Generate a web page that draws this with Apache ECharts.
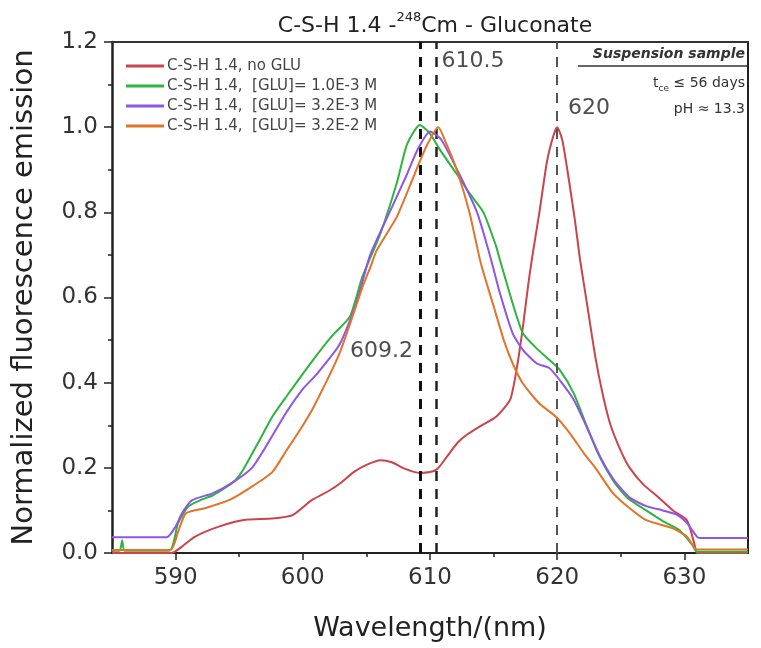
<!DOCTYPE html>
<html>
<head>
<meta charset="utf-8">
<title>C-S-H 1.4 - 248Cm - Gluconate</title>
<script src="https://cdn.jsdelivr.net/npm/echarts@6/dist/echarts.min.js"></script>
<style>
  html, body { margin: 0; padding: 0; background: #ffffff; }
  #chart { width: 761px; height: 648px; }
</style>
</head>
<body>
<div id="chart"></div>
<script>
// Emission spectra, wavelength in nm and normalized intensity
const seriesNames = [
  'C-S-H 1.4, no GLU',
  'C-S-H 1.4,  [GLU]= 1.0E-3 M',
  'C-S-H 1.4,  [GLU]= 3.2E-3 M',
  'C-S-H 1.4,  [GLU]= 3.2E-2 M'
];

const wlNoGlu = [585, 589.7, 590.5, 591.5, 593.4, 595.5, 597.6, 599.2, 600.7, 602, 603, 604, 605, 606.1, 607, 608, 609.2, 610, 610.6, 611.3, 612.2, 613, 613.9, 615.2, 616.3, 616.8, 617.3, 617.7, 618, 618.6, 619.2, 619.7, 620, 620.4, 620.9, 621.4, 621.8, 622.3, 623, 623.6, 624.2, 625, 625.7, 626.8, 627.8, 629.1, 630.2, 630.8, 631, 635];
const emNoGlu = [0, 0, 0.015, 0.038, 0.062, 0.078, 0.081, 0.089, 0.124, 0.145, 0.165, 0.19, 0.207, 0.218, 0.213, 0.198, 0.188, 0.19, 0.198, 0.225, 0.26, 0.28, 0.297, 0.32, 0.36, 0.43, 0.53, 0.625, 0.688, 0.80, 0.92, 0.98, 1.0, 0.97, 0.88, 0.78, 0.688, 0.594, 0.46, 0.37, 0.30, 0.24, 0.20, 0.16, 0.135, 0.10, 0.077, 0.02, 0, 0];

const wlGlu1 = [585, 585.6, 585.8, 586, 589.5, 590.2, 591, 592, 592.9, 594, 594.7, 595.3, 596.6, 597.6, 598.7, 600.8, 602.3, 603.7, 604.7, 606.1, 607.4, 608.2, 609.2, 610, 610.8, 612.1, 613.1, 614.2, 615.2, 615.5, 616.5, 617.3, 618.4, 619.4, 620.2, 621.3, 622.3, 623.2, 624.4, 625.5, 627, 628.3, 629.6, 630.6, 631, 635];
const emGlu1 = [0.005, 0.005, 0.03, 0.005, 0.005, 0.07, 0.109, 0.125, 0.135, 0.155, 0.171, 0.195, 0.265, 0.32, 0.367, 0.453, 0.51, 0.555, 0.65, 0.75, 0.87, 0.96, 1.005, 0.985, 0.946, 0.89, 0.845, 0.80, 0.72, 0.688, 0.586, 0.516, 0.48, 0.453, 0.43, 0.375, 0.30, 0.234, 0.17, 0.13, 0.10, 0.075, 0.054, 0.02, 0.003, 0.003];

const wlGlu2 = [585, 589.3, 590, 590.5, 591.3, 592.9, 594.4, 596, 597.3, 598.7, 600, 601.1, 602.9, 604.2, 605.3, 606.9, 608.2, 609, 610, 610.9, 612.3, 613.7, 614.7, 615.5, 616.5, 617.3, 618.4, 619.4, 620.2, 621.3, 622.3, 623.4, 624.5, 625.7, 627, 628.3, 629.4, 630.2, 631, 631.3, 635];
const emGlu2 = [0.037, 0.037, 0.062, 0.093, 0.124, 0.14, 0.164, 0.20, 0.26, 0.33, 0.385, 0.42, 0.49, 0.586, 0.70, 0.805, 0.89, 0.946, 0.99, 0.97, 0.89, 0.80, 0.70, 0.61, 0.516, 0.477, 0.445, 0.434, 0.406, 0.36, 0.297, 0.225, 0.17, 0.13, 0.11, 0.10, 0.09, 0.07, 0.038, 0.035, 0.035];

const wlGlu3 = [585, 589.6, 590.2, 590.8, 592.3, 594.2, 596, 597.6, 598.7, 599.8, 600.8, 602.9, 604.7, 605.3, 605.8, 607.4, 608.7, 609.7, 610.65, 611.3, 612.1, 613.1, 614, 615, 615.8, 616.5, 617.3, 618.6, 619.9, 621, 622.1, 623, 624.4, 625.7, 627, 629.1, 630.2, 631, 635];
const emGlu3 = [0.007, 0.007, 0.05, 0.093, 0.105, 0.124, 0.156, 0.19, 0.24, 0.29, 0.34, 0.47, 0.625, 0.67, 0.71, 0.79, 0.883, 0.954, 1.0, 0.96, 0.90, 0.80, 0.68, 0.58, 0.50, 0.445, 0.398, 0.351, 0.32, 0.281, 0.234, 0.20, 0.14, 0.105, 0.077, 0.058, 0.038, 0.008, 0.008];

const seriesColors = ['#c9444b', '#2db43c', '#8e55e6', '#e2742a'];

// Peak positions marked with dashed guides
const peakWavelengths = [609.2, 610.5, 620];
const peakLabels = ['609.2', '610.5', '620'];
// Where each peak label sits: [wavelength, intensity, side]
const peakLabelAnchors = [[608.66, 0.474, 'left'], [610.9, 1.155, 'right'], [620.85, 1.045, 'right']];

const xTickValues = [590, 600, 610, 620, 630];
const xMinorValues = [595, 605, 615, 625];

const FONT = 'DejaVu Sans';

function pairs(xs, ys) {
  return xs.map((x, i) => [x, ys[i]]);
}

const spectra = [
  pairs(wlNoGlu, emNoGlu),
  pairs(wlGlu1, emGlu1),
  pairs(wlGlu2, emGlu2),
  pairs(wlGlu3, emGlu3)
];

const lineSeries = spectra.map((d, i) => ({
  name: seriesNames[i],
  type: 'line',
  data: d,
  symbol: 'none',
  smooth: 0.2,
  lineStyle: { color: seriesColors[i], width: 2 },
  itemStyle: { color: seriesColors[i] },
  z: 3 + i,
  silent: true
}));

// Dashed guides: two dark ones for the GLU peaks, a grey one for 620 nm
const guideStyles = [
  { color: '#111111', width: 3 },
  { color: '#222222', width: 2.5 },
  { color: '#555555', width: 2 }
];
const guideSeries = {
  type: 'line',
  data: [],
  silent: true,
  markLine: {
    silent: true,
    symbol: ['none', 'none'],
    label: { show: false },
    data: peakWavelengths.map((w, i) => ({
      xAxis: w,
      lineStyle: { type: [10, 8], color: guideStyles[i].color, width: guideStyles[i].width }
    }))
  },
  z: 10
};

const labelSeries = {
  type: 'scatter',
  symbolSize: 0,
  silent: true,
  data: peakLabelAnchors.map((a, i) => ({
    value: [a[0], a[1]],
    label: {
      show: true,
      position: a[2],
      distance: 0,
      formatter: peakLabels[i],
      fontFamily: FONT,
      fontSize: 22,
      color: '#222222'
    }
  })),
  z: 12
};

const chart = echarts.init(document.getElementById('chart'), null, { renderer: 'canvas' });

chart.setOption({
  backgroundColor: '#ffffff',
  animation: false,
  title: {
    left: 430,
    top: 4,
    textAlign: 'center',
    text: '{a|C-S-H 1.4 -}{s|248}{a|Cm - Gluconate}',
    textStyle: {
      fontWeight: 'normal',
      rich: {
        a: { fontFamily: FONT, fontSize: 22, fontWeight: 'normal', color: '#222222', lineHeight: 28, verticalAlign: 'bottom' },
        s: { fontFamily: FONT, fontSize: 13, fontWeight: 'normal', color: '#222222', lineHeight: 28, verticalAlign: 'top', padding: [2, 0, 0, 0] }
      }
    }
  },
  legend: {
    data: seriesNames,
    orient: 'vertical',
    left: 121,
    top: 53,
    itemWidth: 38,
    itemHeight: 3,
    itemGap: 4,
    icon: 'rect',
    selectedMode: false,
    textStyle: { fontFamily: FONT, fontSize: 15, color: '#444444', lineHeight: 16, padding: [0, 0, 0, -2] }
  },
  grid: { left: 112, right: 13, top: 42, bottom: 95, containLabel: false },
  xAxis: [
    {
      type: 'value',
      min: 585,
      max: 635,
      interval: 5,
      position: 'bottom',
      name: 'Wavelength/(nm)',
      nameLocation: 'middle',
      nameGap: 62,
      nameTextStyle: { fontFamily: FONT, fontSize: 27, color: '#222222' },
      axisLine: { show: true, lineStyle: { color: '#222222', width: 2 } },
      axisTick: { show: true, customValues: xTickValues, length: 7, inside: false, lineStyle: { color: '#222222', width: 1.5 } },
      axisLabel: { customValues: xTickValues, fontFamily: FONT, fontSize: 23, color: '#333333', margin: 14 },
      splitLine: { show: false }
    },
    {
      type: 'value',
      min: 585,
      max: 635,
      interval: 5,
      position: 'bottom',
      axisLine: { show: false },
      axisTick: { show: true, customValues: xMinorValues, length: 4, inside: false, lineStyle: { color: '#222222', width: 1.5 } },
      axisLabel: { show: false },
      splitLine: { show: false }
    },
    {
      type: 'value',
      min: 585,
      max: 635,
      position: 'top',
      axisLine: { show: true, onZero: false, lineStyle: { color: '#333333', width: 2 } },
      axisTick: { show: false },
      axisLabel: { show: false },
      splitLine: { show: false }
    }
  ],
  yAxis: [
    {
      type: 'value',
      min: 0,
      max: 1.2,
      interval: 0.2,
      name: 'Normalized fluorescence emission',
      nameLocation: 'middle',
      nameGap: 73,
      nameTextStyle: { fontFamily: FONT, fontSize: 29, color: '#222222' },
      axisLine: { show: true, lineStyle: { color: '#222222', width: 2.5 } },
      axisTick: { show: true, length: 8, inside: false, lineStyle: { color: '#222222', width: 1.5 } },
      minorTick: { show: true, splitNumber: 2, length: 4, lineStyle: { color: '#222222', width: 1.5 } },
      axisLabel: {
        fontFamily: FONT, fontSize: 23, color: '#333333', margin: 14,
        formatter: v => v.toFixed(1)
      },
      splitLine: { show: false }
    },
    {
      type: 'value',
      min: 0,
      max: 1.2,
      position: 'right',
      axisLine: { show: true, onZero: false, lineStyle: { color: '#222222', width: 2 } },
      axisTick: { show: false },
      axisLabel: { show: false },
      splitLine: { show: false }
    }
  ],
  graphic: [
    {
      type: 'text',
      right: 16,
      top: 47,
      style: { text: 'Suspension sample', fontFamily: FONT, fontSize: 14, fontWeight: 'bold', fontStyle: 'italic', fill: '#333333' }
    },
    {
      type: 'line',
      shape: { x1: 578, y1: 66, x2: 748, y2: 66 },
      style: { stroke: '#333333', lineWidth: 1.5 }
    },
    {
      type: 'text',
      right: 16,
      top: 76,
      style: {
        text: '{t|t}{b|ce}{t| ≤ 56 days}',
        rich: {
          t: { fontFamily: FONT, fontSize: 14, fill: '#333333', lineHeight: 20 },
          b: { fontFamily: FONT, fontSize: 9, fill: '#333333', lineHeight: 20, verticalAlign: 'bottom', padding: [6, 0, 0, 0] }
        }
      }
    },
    {
      type: 'text',
      right: 16,
      top: 102,
      style: { text: 'pH ≈ 13.3', fontFamily: FONT, fontSize: 14, fill: '#333333' }
    }
  ],
  series: lineSeries.concat([guideSeries, labelSeries])
});
</script>
</body>
</html>
